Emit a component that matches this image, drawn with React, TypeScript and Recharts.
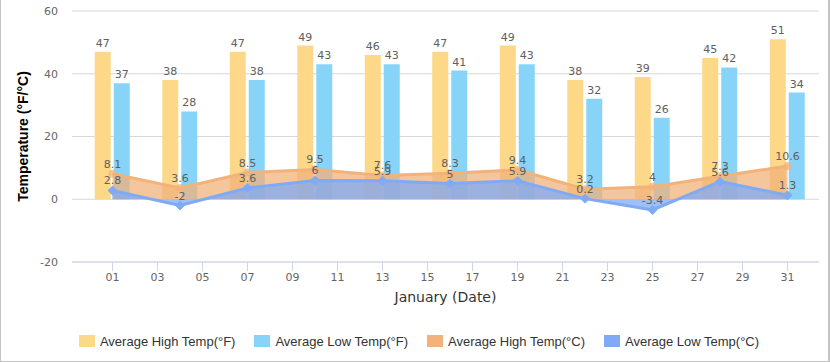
import React from "react";
import {
  Area,
  Bar,
  CartesianGrid,
  ComposedChart,
  Label,
  LabelList,
  Legend,
  XAxis,
  YAxis,
} from "recharts";

// day of month for each reading
const days = [1, 4, 7, 10, 13, 16, 19, 22, 25, 28, 31];
const highF = [47, 38, 47, 49, 46, 47, 49, 38, 39, 45, 51];
const lowF = [37, 28, 38, 43, 43, 41, 43, 32, 26, 42, 34];
const highC = [8.1, 3.6, 8.5, 9.5, 7.6, 8.3, 9.4, 3.2, 4, 7.3, 10.6];
const lowC = [2.8, -2, 3.6, 6, 5.9, 5, 5.9, 0.2, -3.4, 5.6, 1.3];

const seriesNames = [
  "Average High Temp(°F)",
  "Average Low Temp(°F)",
  "Average High Temp(°C)",
  "Average Low Temp(°C)",
];

const xTicks = [1, 3, 5, 7, 9, 11, 13, 15, 17, 19, 21, 23, 25, 27, 29, 31];
const yTicks = [-20, 0, 20, 40, 60];

const data = days.map((day, i) => ({
  day,
  highF: highF[i],
  lowF: lowF[i],
  highC: highC[i],
  lowC: lowC[i],
}));

const YELLOW = "#FDD889";
const SKY = "#87D4F8";
const ORANGE = "#F2B27A";
const BLUE = "#7FAAF5";
const AXIS = "#ccd6eb";
const LABEL_FONT = "'DejaVu Sans', sans-serif";

const labelStyle = { fill: "#606060", fontSize: 11, fontFamily: LABEL_FONT };

const Diamond = (props: any) => {
  const { cx, cy } = props;
  if (cx == null || cy == null) return null;
  return (
    <path
      d={`M${cx},${cy - 5}L${cx + 5},${cy}L${cx},${cy + 5}L${cx - 5},${cy}Z`}
      fill={BLUE}
    />
  );
};

const renderLegend = (props: any) => {
  // keep the legend in series order, whatever order the items were drawn in
  const items = [...(props.payload || [])].sort(
    (a: any, b: any) => seriesNames.indexOf(a.value) - seriesNames.indexOf(b.value)
  );
  return (
    <div
      style={{
        display: "flex",
        justifyContent: "center",
        alignItems: "center",
        height: 20,
        paddingTop: 2,
        paddingLeft: 8,
        boxSizing: "border-box",
        gap: 19,
        fontFamily: "'Liberation Sans', Arial, sans-serif",
        fontSize: 13,
        color: "#333",
      }}
    >
      {items.map((e: any) => (
        <div key={e.value} style={{ display: "flex", alignItems: "center" }}>
          <span
            style={{
              display: "inline-block",
              width: 16,
              height: 12,
              background: e.color,
              marginRight: 5,
            }}
          />
          <span>{e.value}</span>
        </div>
      ))}
    </div>
  );
};

export default function App() {
  return (
    <div
      style={{
        position: "absolute",
        left: 0,
        top: 0,
        width: 830,
        height: 362,
        background: "#fff",
      }}
    >
      <ComposedChart
        width={830}
        height={362}
        data={data}
        barGap={3}
        margin={{ top: 11, right: 11, bottom: 12, left: 0 }}
      >
        <CartesianGrid vertical={false} stroke="#d8d8d8" />
        <XAxis
          dataKey="day"
          type="number"
          domain={[-0.8, 32.4]}
          ticks={xTicks}
          interval={0}
          tickFormatter={(v) => String(v).padStart(2, "0")}
          height={68}
          tickSize={9}
          tickLine={{ stroke: AXIS }}
          axisLine={{ stroke: AXIS }}
          tick={{ fill: "#666", fontSize: 11, fontFamily: LABEL_FONT }}
        >
          <Label
            value="January (Date)"
            position="insideBottom"
            offset={28}
            style={{ fill: "#333", fontSize: 14, fontFamily: LABEL_FONT }}
          />
        </XAxis>
        <YAxis
          type="number"
          domain={[-20, 60]}
          ticks={yTicks}
          width={72}
          axisLine={false}
          tickLine={false}
          tickSize={6}
          tickMargin={8}
          tick={{ fill: "#666", fontSize: 11, fontFamily: LABEL_FONT }}
        >
          <Label
            value="Temperature (°F/°C)"
            angle={-90}
            position="insideLeft"
            offset={23}
            style={{
              textAnchor: "middle",
              fill: "#000",
              fontSize: 14,
              fontWeight: "bold",
              fontFamily: "'Liberation Sans', Arial, sans-serif",
            }}
          />
        </YAxis>
        <Legend
          verticalAlign="bottom"
          height={20}
          content={renderLegend}
          wrapperStyle={{ left: 0, width: 830 }}
        />
        <Bar
          dataKey="highF"
          name={seriesNames[0]}
          fill={YELLOW}
          barSize={16}
          legendType="square"
          isAnimationActive={false}
        >
          <LabelList dataKey="highF" position="top" offset={5} style={labelStyle} />
        </Bar>
        <Bar
          dataKey="lowF"
          name={seriesNames[1]}
          fill={SKY}
          barSize={16}
          legendType="square"
          isAnimationActive={false}
        >
          <LabelList dataKey="lowF" position="top" offset={5} style={labelStyle} />
        </Bar>
        <Area
          type="linear"
          dataKey="highC"
          name={seriesNames[2]}
          stroke={ORANGE}
          strokeWidth={3}
          fill={ORANGE}
          fillOpacity={0.75}
          baseValue={0}
          dot={{ r: 4, fill: ORANGE, stroke: "none" }}
          activeDot={false}
          legendType="square"
          zIndex={350}
          isAnimationActive={false}
        >
          <LabelList dataKey="highC" position="top" offset={6} style={labelStyle} />
        </Area>
        <Area
          type="linear"
          dataKey="lowC"
          name={seriesNames[3]}
          stroke={BLUE}
          strokeWidth={3}
          fill={BLUE}
          fillOpacity={0.75}
          baseValue={0}
          dot={<Diamond />}
          activeDot={false}
          legendType="square"
          zIndex={360}
          isAnimationActive={false}
        >
          <LabelList dataKey="lowC" position="top" offset={6} style={labelStyle} />
        </Area>
      </ComposedChart>
      <div
        style={{
          position: "absolute",
          left: 0,
          top: 0,
          width: 830,
          height: 362,
          boxSizing: "border-box",
          borderLeft: "1px solid #c4c4c4",
          borderRight: "2px solid #c4c4c4",
          borderBottom: "1px solid #c4c4c4",
          pointerEvents: "none",
        }}
      />
    </div>
  );
}
